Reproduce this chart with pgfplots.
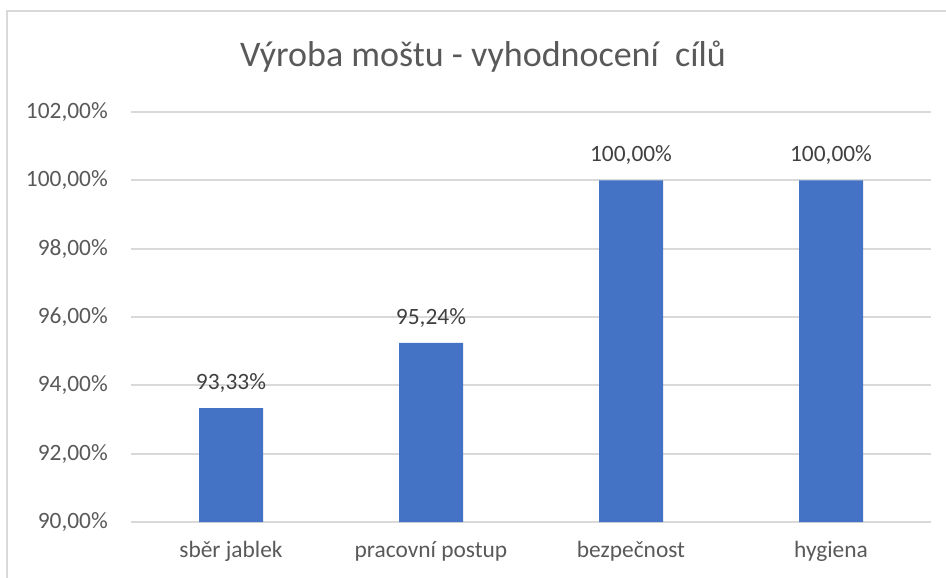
\documentclass[border=0pt]{standalone}
\usepackage{pgfplots}
\pgfplotsset{compat=1.18}
\usepackage{fontspec}
\setmainfont{Carlito}
\definecolor{barblue}{HTML}{4472C4}
\definecolor{txtgray}{HTML}{595959}
\definecolor{lblgray}{HTML}{404040}
\definecolor{gridgray}{HTML}{D9D9D9}
\begin{document}
\begin{tikzpicture}
\useasboundingbox (0pt,0pt) rectangle (946pt,-578pt);
\draw[gridgray, line width=1.8pt] (7pt,-600pt) -- (7pt,-11pt) -- (960pt,-11pt);
\node[txtgray, font=\fontsize{36}{42}\selectfont] at (483pt,-57pt) {Výroba moštu - vyhodnocení\ \ cílů};
\begin{axis}[
  at={(131pt,-522pt)}, anchor=south west,
  scale only axis, width=800pt, height=410pt,
  xmin=-0.5, xmax=3.5, ymin=90, ymax=102,
  ytick={90,92,...,102},
  yticklabels={{90,00\%},{92,00\%},{94,00\%},{96,00\%},{98,00\%},{100,00\%},{102,00\%}},
  xtick={0,1,2,3},
  xticklabels={sběr jablek, pracovní postup, bezpečnost, hygiena},
  axis line style={draw=none},
  major tick length=0pt,
  ymajorgrids, grid style={gridgray, line width=2.2pt},
  tick label style={txtgray, font=\fontsize{23.4}{28}\selectfont},
  yticklabel style={anchor=east, inner sep=0pt, xshift=-23pt},
  xticklabel style={anchor=center, inner sep=0pt, yshift=-29pt},
  clip=false,
]
\addplot[ybar, bar width=64pt, fill=barblue, draw=none,
  point meta=explicit symbolic,
  nodes near coords,
  every node near coord/.append style={lblgray, font=\fontsize{23.4}{28}\selectfont, anchor=center, yshift=25pt, inner sep=0pt}]
  coordinates {(0,93.33) [93,33\%] (1,95.24) [95,24\%] (2,100) [100,00\%] (3,100) [100,00\%]};
\end{axis}
\end{tikzpicture}
\end{document}
